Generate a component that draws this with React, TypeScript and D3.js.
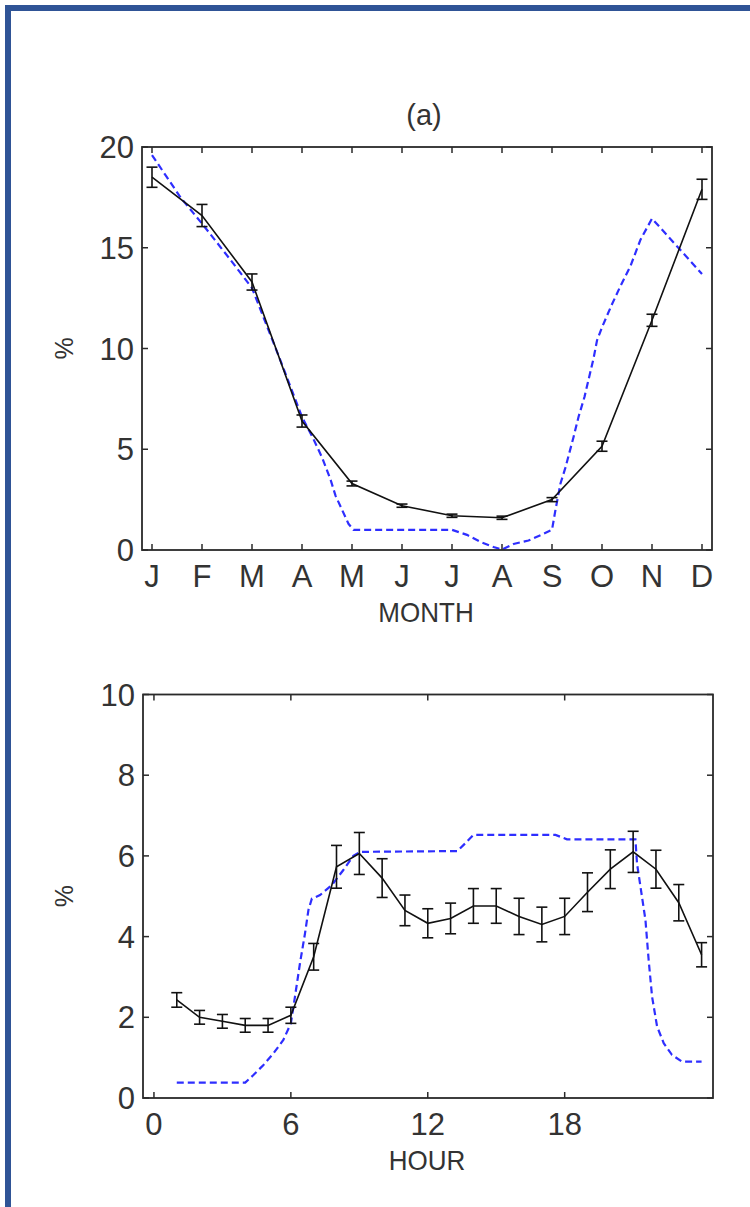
import React from "react";
import * as d3 from "d3";

// ---------- DATA ----------
const monthLabels = ["J", "F", "M", "A", "M", "J", "J", "A", "S", "O", "N", "D"];
const monthIdx = [1, 2, 3, 4, 5, 6, 7, 8, 9, 10, 11, 12];
const monthObs = [18.5, 16.6, 13.3, 6.4, 3.3, 2.2, 1.7, 1.6, 2.5, 5.15, 11.4, 17.9];
const monthErr = [0.5, 0.55, 0.4, 0.3, 0.12, 0.08, 0.08, 0.08, 0.1, 0.25, 0.3, 0.5];
// model curve (read at the positions where it bends)
const monthModelX = [1, 1.57, 2, 2.57, 3, 3.57, 4, 4.23, 4.4, 4.57, 4.67, 4.8, 4.93, 5.03, 7.0, 7.3, 7.57, 7.83, 8.0, 8.23, 8.53, 8.83, 9.0, 9.07, 9.17, 9.27, 9.43, 9.53, 9.65, 9.83, 9.9, 10.0, 10.2, 10.37, 10.57, 10.77, 11.0, 12.0];
const monthModelY = [19.6, 17.5, 16.2, 14.4, 13.0, 9.4, 6.6, 5.5, 4.6, 3.5, 2.7, 2.0, 1.3, 1.0, 1.0, 0.75, 0.4, 0.15, 0.02, 0.3, 0.47, 0.8, 1.0, 2.0, 3.3, 4.1, 5.6, 6.6, 7.6, 9.5, 10.4, 11.05, 12.2, 13.1, 14.1, 15.4, 16.45, 13.7];
const monthYTicks = [0, 5, 10, 15, 20];

const hourIdx = [1, 2, 3, 4, 5, 6, 7, 8, 9, 10, 11, 12, 13, 14, 15, 16, 17, 18, 19, 20, 21, 22, 23, 24];
const hourObs = [2.43, 2.0, 1.9, 1.8, 1.8, 2.05, 3.5, 5.73, 6.06, 5.45, 4.65, 4.33, 4.45, 4.76, 4.76, 4.5, 4.3, 4.5, 5.1, 5.67, 6.1, 5.67, 4.84, 3.55];
const hourErr = [0.18, 0.17, 0.17, 0.17, 0.17, 0.2, 0.33, 0.53, 0.52, 0.48, 0.38, 0.36, 0.38, 0.43, 0.43, 0.45, 0.43, 0.45, 0.48, 0.48, 0.51, 0.47, 0.45, 0.3];
const hourModelX = [1, 4.0, 4.36, 4.8, 5.23, 5.67, 6.0, 6.18, 6.4, 6.62, 6.77, 6.92, 7.28, 7.8, 8.3, 8.74, 9.04, 13.3, 13.64, 14.0, 17.6, 18.1, 21.1, 21.17, 21.3, 21.54, 21.68, 21.83, 22.05, 22.34, 22.7, 23.14, 24.0];
const hourModelY = [0.38, 0.38, 0.57, 0.82, 1.1, 1.44, 1.85, 2.51, 3.34, 4.08, 4.66, 4.94, 5.03, 5.28, 5.65, 6.0, 6.1, 6.12, 6.31, 6.52, 6.52, 6.41, 6.41, 5.81, 5.32, 4.41, 3.42, 2.51, 1.77, 1.36, 1.07, 0.9, 0.9];
const hourXTicks = [0, 6, 12, 18];
const hourYTicks = [0, 2, 4, 6, 8, 10];

// ---------- STYLE ----------
const FONT = "'Liberation Sans', Arial, Helvetica, sans-serif";
const AXIS = "#2a2a2a";
const BLUE = "#2e2eff";

function Txt({ x, y, children, anchor = "middle", size = 30, rotate = 0, sx = 1 }: any) {
  return (
    <text
      transform={`translate(${x},${y}) rotate(${rotate}) scale(${sx},1)`}
      textAnchor={anchor}
      fontFamily={FONT}
      fontSize={size}
      fill="#333"
    >
      {children}
    </text>
  );
}

function Panel({ x, y, xTicks, xTickLabels, yTicks, obsX, obs, err, modX, modY, xLabel, title }: any) {
  const [x0, x1] = x.range();
  const [y0, y1] = y.range();
  const tl = 6;
  const line = d3.line<number>().x((_, i) => x(obsX[i])).y((d) => y(d));
  const mline = d3.line<number>().x((_, i) => x(modX[i])).y((d) => y(d));
  const cap = 5.5;
  return (
    <g>
      {/* model */}
      <path d={mline(modY) || ""} fill="none" stroke={BLUE} strokeWidth={2.2} strokeDasharray="7,4" />
      {/* observations */}
      <path d={line(obs) || ""} fill="none" stroke="#111" strokeWidth={1.6} />
      {obs.map((v: number, i: number) => {
        const cx = x(obsX[i]);
        const top = y(v + err[i]);
        const bot = y(v - err[i]);
        return (
          <g key={i} stroke="#111" strokeWidth={1.6}>
            <line x1={cx} x2={cx} y1={top} y2={bot} />
            <line x1={cx - cap} x2={cx + cap} y1={top} y2={top} />
            <line x1={cx - cap} x2={cx + cap} y1={bot} y2={bot} />
          </g>
        );
      })}
      {/* box */}
      <rect x={x0} y={y1} width={x1 - x0} height={y0 - y1} fill="none" stroke={AXIS} strokeWidth={1.8} />
      {xTicks.map((t: number, i: number) => (
        <g key={"xt" + i} stroke={AXIS} strokeWidth={1.5}>
          <line x1={x(t)} x2={x(t)} y1={y0} y2={y0 - tl} />
          <line x1={x(t)} x2={x(t)} y1={y1} y2={y1 + tl} />
        </g>
      ))}
      {yTicks.map((t: number, i: number) => (
        <g key={"yt" + i} stroke={AXIS} strokeWidth={1.5}>
          <line x1={x0} x2={x0 + tl} y1={y(t)} y2={y(t)} />
          <line x1={x1} x2={x1 - tl} y1={y(t)} y2={y(t)} />
        </g>
      ))}
      {xTicks.map((t: number, i: number) => (
        <Txt key={"xl" + i} x={x(t)} y={y0 + 37} size={31}>{xTickLabels[i]}</Txt>
      ))}
      {yTicks.map((t: number, i: number) => (
        <Txt key={"yl" + i} x={x0 - 8} y={y(t) + 11} anchor="end" size={31}>{String(t)}</Txt>
      ))}
      <Txt x={(x0 + x1) / 2 - 1} y={y0 + 72} size={28} sx={0.93}>{xLabel}</Txt>
      <Txt x={73} y={(y0 + y1) / 2} size={25} rotate={-90}>%</Txt>
      {title ? <Txt x={(x0 + x1) / 2 - 3} y={y1 - 22} size={29}>{title}</Txt> : null}
    </g>
  );
}

export default function App() {
  const xTop = d3.scaleLinear().domain([0.8, 12.2]).range([142, 712]);
  const yTop = d3.scaleLinear().domain([0, 20]).range([550, 147]);
  const xBot = d3.scaleLinear().domain([-0.48, 24.5]).range([143, 713]);
  const yBot = d3.scaleLinear().domain([0, 10]).range([1098, 694.5]);
  return (
    <svg width={750} height={1207} style={{ position: "absolute", left: 0, top: 0, background: "#fff" }}>
      <rect x={0} y={0} width={750} height={1207} fill="#fff" />
      <line x1={5} x2={750} y1={8} y2={8} stroke="#2f5496" strokeWidth={6} />
      <line x1={8} x2={8} y1={5} y2={1207} stroke="#2f5496" strokeWidth={6} />
      <Panel
        x={xTop}
        y={yTop}
        xTicks={monthIdx}
        xTickLabels={monthLabels}
        yTicks={monthYTicks}
        obsX={monthIdx}
        obs={monthObs}
        err={monthErr}
        modX={monthModelX}
        modY={monthModelY}
        xLabel="MONTH"
        title="(a)"
      />
      <Panel
        x={xBot}
        y={yBot}
        xTicks={hourXTicks}
        xTickLabels={hourXTicks.map(String)}
        yTicks={hourYTicks}
        obsX={hourIdx}
        obs={hourObs}
        err={hourErr}
        modX={hourModelX}
        modY={hourModelY}
        xLabel="HOUR"
      />
    </svg>
  );
}
